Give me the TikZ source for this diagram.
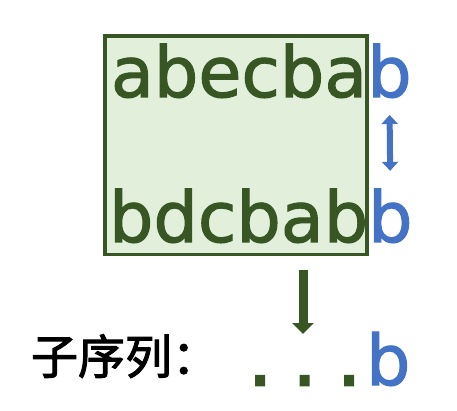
\documentclass[tikz,border=0pt]{standalone}
\usepackage{fontspec}
\setmainfont{DejaVu Sans}
\newfontfamily\seqfont[FakeBold=1.6]{DejaVu Sans}
\newfontfamily\dotfont[FakeBold=4]{DejaVu Sans}
\newfontfamily\cjk[FakeBold=2.2]{Noto Sans CJK SC}
\usetikzlibrary{arrows.meta}
\definecolor{dkgreen}{HTML}{375623}
\definecolor{ltgreen}{HTML}{E2EFDA}
\definecolor{myblue}{HTML}{4472C4}
\tikzset{
  seqtext/.style={inner sep=0pt, outer sep=0pt, anchor=base west, text=dkgreen, font=\seqfont\fontsize{70}{84}\selectfont},
  bluetext/.style={seqtext, text=myblue},
  dottext/.style={seqtext, font=\dotfont\fontsize{70}{84}\selectfont},
  labeltext/.style={inner sep=0pt, outer sep=0pt, anchor=base west, text=black, font=\cjk\fontsize{47}{56}\selectfont},
  seqbox/.style={draw=dkgreen, fill=ltgreen, line width=3.5pt, inner sep=0pt, outer sep=0pt},
  bluearrow/.style={draw=myblue, line width=6pt, {Triangle[width=16pt,length=9pt]}-{Triangle[width=16pt,length=9pt]}},
  greenarrow/.style={draw=dkgreen, line width=9pt, -{Triangle[width=21pt,length=11pt]}}
}
\begin{document}
\begin{tikzpicture}[x=1pt,y=-1pt]
\useasboundingbox (0,0) rectangle (457,411);
\node[seqbox, minimum width=262pt, minimum height=218.5pt] (box) at (236,145.25) {};
\node[seqtext] (top) at (111,97) {abecba};
\node[bluetext] (topb) at (top.base east) {b};
\node[seqtext] (bot) at (109,242) {bdcbab};
\node[bluetext] (botb) at (bot.base east) {b};
\draw[bluearrow, shorten <=17pt, shorten >=18pt] (topb.south) -- (botb.north);
\node[labeltext] (lab) at (31,374) {子序列：};
\node[dottext] (dots) at (249,385) {.\ .\ .};
\node[bluetext] (endb) at (366,385) {b};
\coordinate (arrtop) at (box.south -| 303,0);
\coordinate (arrtip) at (303,334);
\draw[greenarrow, shorten <=15pt] (arrtop) -- (arrtip);
\end{tikzpicture}
\end{document}
